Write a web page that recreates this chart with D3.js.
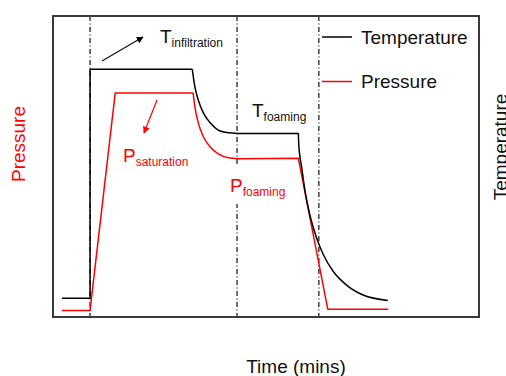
<!DOCTYPE html>
<html>
<head>
<meta charset="utf-8">
<script src="https://cdn.jsdelivr.net/npm/d3@7"></script>
<style>
  body { margin: 0; background: #fff; }
  text { font-family: "Liberation Sans", Arial, sans-serif; }
</style>
</head>
<body>
<div id="chart-area"></div>
<script>
// process profile, arbitrary units (time 0-100, value 0-100)
const tempTime  = [2.1, 8.7, 8.7, 32.7, 33.3, 34.1, 35.3, 36.9, 38.8, 41.2, 43.4, 57.6, 57.7, 58.4, 59.2, 60.3, 61.9, 63.5, 65.8, 68.9, 72.8, 78.6]
const tempValue = [6.2, 6.2, 82.3, 82.3, 76.5, 72.1, 67.8, 64.5, 62.1, 61.2, 61.0, 61.0, 57.1, 49.5, 41.6, 33.9, 26.2, 20.6, 15.1, 10.6, 7.3, 5.5]
// index ranges of the smooth (cooling) parts
const tempSmooth = [[3, 10], [11, 21]]

const pressTime  = [2.1, 8.7, 14.6, 32.9, 33.3, 34.1, 35.3, 36.9, 38.8, 41.2, 43.5, 57.6, 64.5, 78.7]
const pressValue = [2.2, 2.2, 74.4, 74.4, 69.9, 64.5, 59.9, 56.5, 54.2, 52.9, 52.6, 52.7, 2.6, 2.6]
const pressSmooth = [[3, 10]]

const stageTimes = [8.7, 43.2, 62.4]

const legendLabels = ["Temperature", "Pressure"]
const legendColors = ["#000000", "#ff0000"]

const WIDTH = 506
const HEIGHT = 376
const PLOT = { LEFT: 53, RIGHT: 479, TOP: 16, BOTTOM: 317 }

const svg = d3.select("#chart-area").append("svg")
  .attr("width", WIDTH)
  .attr("height", HEIGHT)

const x = d3.scaleLinear().domain([0, 100]).range([PLOT.LEFT, PLOT.RIGHT])
const y = d3.scaleLinear().domain([0, 100]).range([PLOT.BOTTOM, PLOT.TOP])

// arrow markers
const defs = svg.append("defs")
legendColors.forEach((c, i) => {
  defs.append("marker")
    .attr("id", "arrow" + i)
    .attr("viewBox", "0 0 10 10")
    .attr("refX", 9).attr("refY", 5)
    .attr("markerWidth", 7).attr("markerHeight", 7)
    .attr("markerUnits", "userSpaceOnUse")
    .attr("orient", "auto")
    .append("path")
    .attr("d", "M0,0 L10,5 L0,10 z")
    .attr("fill", c)
})

// stage separators (dash-dot)
svg.selectAll(".stage")
  .data(stageTimes)
  .enter().append("line")
  .attr("class", "stage")
  .attr("x1", d => x(d)).attr("x2", d => x(d))
  .attr("y1", PLOT.TOP).attr("y2", PLOT.BOTTOM)
  .attr("stroke", "#333")
  .attr("stroke-width", 1.4)
  .attr("stroke-dasharray", "5,2.5,1,2.5")

const straight = d3.line().x(d => x(d[0])).y(d => y(d[1]))
const smooth = d3.line().x(d => x(d[0])).y(d => y(d[1])).curve(d3.curveMonotoneX)

// build a path: straight between the smooth ranges, monotone inside them
function profilePath(times, values, ranges) {
  const pts = d3.zip(times, values)
  let d = ""
  let pos = 0
  ranges.forEach(([a, b]) => {
    if (a > pos) d += straight(pts.slice(pos, a + 1))
    d += smooth(pts.slice(a, b + 1))
    pos = b
  })
  if (pos < pts.length - 1) d += straight(pts.slice(pos))
  return d
}

svg.append("path")
  .attr("d", profilePath(pressTime, pressValue, pressSmooth))
  .attr("fill", "none")
  .attr("stroke", legendColors[1])
  .attr("stroke-width", 1.5)
  .attr("stroke-linejoin", "round")

svg.append("path")
  .attr("d", profilePath(tempTime, tempValue, tempSmooth))
  .attr("fill", "none")
  .attr("stroke", legendColors[0])
  .attr("stroke-width", 1.5)
  .attr("stroke-linejoin", "round")

// frame
svg.append("rect")
  .attr("x", PLOT.LEFT).attr("y", PLOT.TOP)
  .attr("width", PLOT.RIGHT - PLOT.LEFT)
  .attr("height", PLOT.BOTTOM - PLOT.TOP)
  .attr("fill", "none")
  .attr("stroke", "#3a3a3a")
  .attr("stroke-width", 2)

// annotations
function subLabel(px, py, main, sub, color) {
  const t = svg.append("text")
    .attr("x", px).attr("y", py)
    .attr("fill", color)
    .attr("font-size", "19px")
  t.append("tspan").text(main)
  t.append("tspan").attr("font-size", "12px").attr("dy", 4).text(sub)
}

svg.append("rect")
  .attr("x", 228).attr("y", 166)
  .attr("width", 58).attr("height", 38)
  .attr("fill", "#fff")

subLabel(160, 43, "T", "infiltration", "#111")
subLabel(252, 117, "T", "foaming", "#111")
subLabel(123, 162, "P", "saturation", "#ff0000")
subLabel(230, 192, "P", "foaming", "#ff0000")

svg.append("line")
  .attr("x1", 102).attr("y1", 61).attr("x2", 143).attr("y2", 37)
  .attr("stroke", "#111").attr("stroke-width", 1.2)
  .attr("marker-end", "url(#arrow0)")

svg.append("line")
  .attr("x1", 157).attr("y1", 100).attr("x2", 144).attr("y2", 133)
  .attr("stroke", "#ff0000").attr("stroke-width", 1.2)
  .attr("marker-end", "url(#arrow1)")

// legend
const legend = svg.selectAll(".legend")
  .data(legendLabels)
  .enter().append("g")
  .attr("class", "legend")
  .attr("transform", (d, i) => `translate(322, ${37 + i * 44.5})`)

legend.append("line")
  .attr("x1", 0).attr("x2", 30)
  .attr("stroke", (d, i) => legendColors[i])
  .attr("stroke-width", 1.5)

legend.append("text")
  .attr("x", 39).attr("y", 6.5)
  .attr("font-size", "19px")
  .attr("fill", "#111")
  .text(d => d)

// axis labels
svg.append("text")
  .attr("transform", "translate(25, 144) rotate(-90)")
  .attr("text-anchor", "middle")
  .attr("font-size", "19px")
  .attr("fill", "#ff0000")
  .text("Pressure")

// right label is partly cut by the page edge, as in the source figure
svg.append("text")
  .attr("transform", "translate(507, 147) rotate(-90)")
  .attr("text-anchor", "middle")
  .attr("font-size", "19px")
  .attr("fill", "#111")
  .text("Temperature")

svg.append("text")
  .attr("x", 296).attr("y", 373)
  .attr("text-anchor", "middle")
  .attr("font-size", "19px")
  .attr("fill", "#111")
  .text("Time (mins)")
</script>
</body>
</html>
